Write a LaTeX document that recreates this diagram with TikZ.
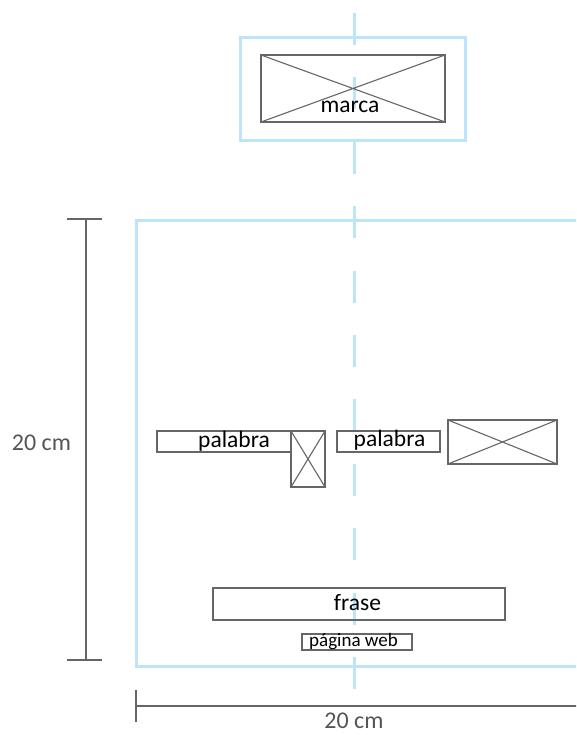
\documentclass[tikz,border=0pt]{standalone}
\usepackage{fontspec}
\setmainfont{Carlito}
\definecolor{guide}{RGB}{189,228,248}
\definecolor{frame}{RGB}{102,102,102}
\definecolor{dimtext}{RGB}{85,85,85}
\tikzset{
  guidebox/.style={draw=guide, line width=3pt},
  guideaxis/.style={draw=guide, line width=3pt, dash pattern=on 32pt off 32.4pt},
  wire/.style={draw=frame, line width=1.4pt, inner sep=0pt, outer sep=0pt, rectangle},
  cross/.style={draw=frame, line width=1.1pt},
  lbl/.style={inner sep=0pt, font=\fontsize{23.5}{25}\selectfont, text=black},
  small/.style={inner sep=0pt, font=\fontsize{19}{21}\selectfont, text=black},
  dimline/.style={draw=frame, line width=1.2pt},
  dimlbl/.style={inner sep=0pt, font=\fontsize{24}{26}\selectfont, text=dimtext}
}
\begin{document}
\begin{tikzpicture}[x=1pt,y=-1pt]
\useasboundingbox (0,0) rectangle (576,735);
\clip (0,0) rectangle (576,735);

% layout guides
\node[guidebox, minimum width=225pt, minimum height=103pt, inner sep=0pt] (logoarea) at (352.5,89.5) {};
\node[guidebox, minimum width=470pt, minimum height=446pt, inner sep=0pt, anchor=north west] (page) at (135,219) {};
\coordinate (axtop) at (354,13);
\coordinate (axbot) at (354,690);
\draw[guideaxis] (axtop) -- (axbot);

% logo placeholder
\node[wire, minimum width=184pt, minimum height=67pt] (logo) at (353,88.5) {};
\draw[cross] (logo.north west) -- (logo.south east) (logo.south west) -- (logo.north east);
\node[lbl] (marca) at (350,107) {marca};

% word row
\node[wire, minimum width=134pt, minimum height=21pt] (w1) at (224,441.5) {};
\node[lbl] (w1t) at (234,441) {palabra};
\node[wire, minimum width=34pt, minimum height=56pt] (img1) at (308,459) {};
\draw[cross] (img1.north west) -- (img1.south east) (img1.south west) -- (img1.north east);
\node[wire, minimum width=103pt, minimum height=21pt] (w2) at (388.5,441.5) {};
\node[lbl] (w2t) at (389.5,440) {palabra};
\node[wire, minimum width=109pt, minimum height=44pt] (img2) at (502.5,442) {};
\draw[cross] (img2.north west) -- (img2.south east) (img2.south west) -- (img2.north east);

% sentence and web address
\node[wire, minimum width=292pt, minimum height=32pt] (phrase) at (359,604) {};
\node[lbl] (phraset) at (357.5,603) {frase};
\node[wire, minimum width=110pt, minimum height=16pt] (web) at (357,642) {};
\node[small] (webt) at (353.5,641.5) {página web};

% dimensions
\coordinate (vtop) at (86,219);
\coordinate (vbot) at (86,660);
\draw[dimline] (vtop) -- (vbot);
\draw[dimline] ([xshift=-19pt]vtop) -- ([xshift=16pt]vtop);
\draw[dimline] ([xshift=-19pt]vbot) -- ([xshift=16pt]vbot);
\node[dimlbl] (vlab) at (41.5,443) {20 cm};

\coordinate (hleft) at (136,706);
\coordinate (hright) at (600,706);
\draw[dimline] (hleft) -- (hright);
\draw[dimline] ([yshift=-16pt]hleft) -- ([yshift=16pt]hleft);
\node[dimlbl] (hlab) at (354,720.5) {20 cm};
\end{tikzpicture}
\end{document}
